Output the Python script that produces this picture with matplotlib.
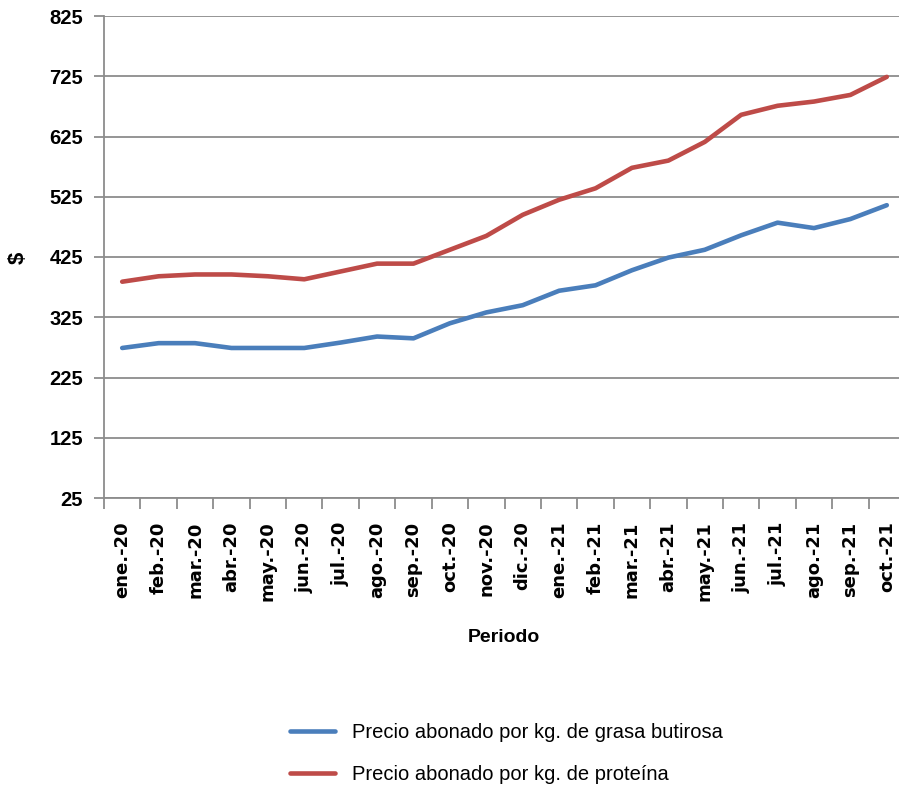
import numpy as np
import matplotlib.pyplot as plt

# ===================== 数据 =====================
periodos = ['ene.-20', 'feb.-20', 'mar.-20', 'abr.-20', 'may.-20', 'jun.-20',
            'jul.-20', 'ago.-20', 'sep.-20', 'oct.-20', 'nov.-20', 'dic.-20',
            'ene.-21', 'feb.-21', 'mar.-21', 'abr.-21', 'may.-21', 'jun.-21',
            'jul.-21', 'ago.-21', 'sep.-21', 'oct.-21']
grasa = [274, 282, 282, 274, 274, 274, 283, 293, 290, 315, 333, 345,
         369, 378, 403, 424, 437, 461, 482, 473, 488, 511]
proteina = [384, 393, 396, 396, 393, 388, 401, 414, 414, 437, 460, 495,
            520, 539, 573, 585, 616, 661, 676, 683, 694, 724]
y_ticks = [25, 125, 225, 325, 425, 525, 625, 725, 825]

BLUE = '#4a7ebb'
RED = '#be4b48'
GRID = '#8c8c8c'
W, H = 899, 787

# ===================== 绘图 =====================
fig = plt.figure(figsize=(W / 100, H / 100), dpi=100)
ax = fig.add_axes([104 / W, 289 / H, 801 / W, 482 / H])

x = np.arange(len(periodos))
ax.plot(x, grasa, color=BLUE, lw=3.3, solid_capstyle='round',
        label='Precio abonado por kg. de grasa butirosa')
ax.plot(x, proteina, color=RED, lw=3.3, solid_capstyle='round',
        label='Precio abonado por kg. de proteína')

ax.set_xlim(-0.5, len(periodos) - 0.5)
ax.set_ylim(25, 825)
ax.set_yticks(y_ticks)
ax.set_yticklabels([str(v) for v in y_ticks])
for lab in ax.get_yticklabels():
    lab.set_family('Liberation Sans')
    lab.set_fontweight('bold')
    lab.set_fontsize(14.5)
ax.yaxis.grid(True, color=GRID, lw=1.3)
ax.set_axisbelow(True)

# 类别刻度线在格子之间, 标签在中间
ax.set_xticks(np.arange(len(periodos) + 1) - 0.5)
ax.set_xticklabels([])
ax.set_xticks(x, minor=True)
ax.set_xticklabels(periodos, minor=True, rotation=90)
for lab in ax.get_xticklabels(minor=True):
    lab.set_family('DejaVu Sans')
    lab.set_fontweight('bold')
    lab.set_fontsize(13)
ax.tick_params(axis='x', which='major', length=8, color=GRID, width=1.3)
ax.tick_params(axis='x', which='minor', length=0, pad=17)
ax.tick_params(axis='y', length=7, color=GRID, width=1.3, pad=8)

for s in ['top', 'right']:
    ax.spines[s].set_visible(False)
for s in ['left', 'bottom']:
    ax.spines[s].set_color(GRID)
    ax.spines[s].set_linewidth(1.3)

fig.text(504 / W, 1 - 637 / H, 'Periodo', ha='center', va='center',
         fontsize=14, fontweight='bold', family='Liberation Sans')
fig.text(18 / W, 1 - 258 / H, '$', ha='center', va='center', rotation=90,
         fontsize=16, fontweight='bold', family='Liberation Sans')

fig.legend(loc='upper left', bbox_to_anchor=(272 / W, 1 - 705 / H),
           frameon=False, handlelength=2.24, handletextpad=0.85,
           labelspacing=1.12, prop={'family': 'Liberation Sans', 'size': 14.5})

fig.savefig('out.png', dpi=100)
